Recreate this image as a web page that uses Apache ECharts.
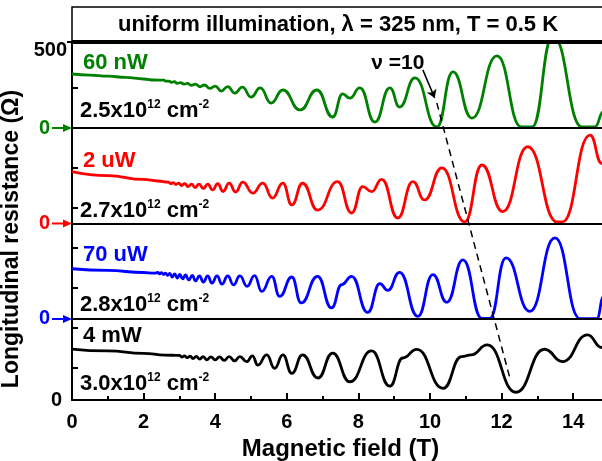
<!DOCTYPE html>
<html>
<head>
<meta charset="utf-8">
<script src="https://cdn.jsdelivr.net/npm/echarts@6/dist/echarts.min.js"></script>
<style>
  html, body { margin: 0; padding: 0; background: #fff; }
  #main { width: 602px; height: 461px; }
</style>
</head>
<body>
<div id="main"></div>
<script>
// magnetic field (T), resistance (Ohm), relative to its own zero
const trace60nW = [
  [0,314],[0.5,308],[1,302],[1.5,294],[2,285],[2.3,279],
  [2.56,278],[2.63,272],[2.70,273],[2.78,266],[2.86,269],[2.94,260],[3.03,264],[3.13,255],
  [3.23,259],[3.33,248],[3.45,255],[3.57,240],[3.70,250],[3.85,230],[4.00,244],[4.17,215],
  [4.35,241],[4.55,203],[4.76,238],[5.00,180],[5.26,233],[5.56,145],[5.89,221],[6.37,105],
  [6.84,221],[7.28,64],[7.56,198],[7.76,174],[8.04,233],[8.46,35],[8.88,233],[9.15,122],
  [9.58,291],[10.19,6],[10.64,326],[11.17,58],[11.87,419],[12.55,6],[12.85,6],[13.43,535],
  [14.25,6],[14.6,6],[14.85,95],[15,200]
];
const trace2uW = [
  [0,301],[1,278],[2,256],[2.4,247],
  [2.69,241],[2.76,232],[2.83,238],[2.90,227],[2.98,235],[3.06,221],[3.15,232],[3.24,215],
  [3.34,229],[3.44,209],[3.55,229],[3.67,203],[3.79,229],[3.93,195],[4.07,232],[4.22,186],
  [4.39,235],[4.57,183],[4.77,241],[5.05,177],[5.33,235],[5.6,148],[5.89,235],[6.14,108],
  [6.44,234],[6.86,78],[7.42,243],[7.81,61],[8.12,214],[8.37,185],[8.65,257],[9.1,32],
  [9.52,243],[9.85,137],[10.33,323],[10.97,9],[11.45,340],[12.03,69],[12.73,446],[13.55,9],
  [13.7,9],[14.47,514],[14.8,349],[15,230]
];
const trace70uW = [
  [0,292],[1,282],[2,270],[2.3,267],
  [2.40,270],[2.45,262],[2.50,269],[2.56,259],[2.61,267],[2.67,253],[2.73,265],[2.80,244],
  [2.87,262],[2.94,238],[3.01,259],[3.09,233],[3.17,256],[3.26,227],[3.36,253],[3.45,221],
  [3.56,250],[3.67,215],[3.79,250],[3.91,209],[4.05,250],[4.19,203],[4.35,250],[4.51,198],
  [4.69,250],[4.89,190],[5.10,252],[5.30,160],[5.58,248],[5.80,131],[6.14,244],[6.40,93],
  [6.86,248],[7.25,64],[7.53,199],[7.81,248],[8.26,38],[8.60,205],[8.82,166],[9.15,271],
  [9.66,15],[10.08,258],[10.47,97],[10.92,343],[11.45,3],[11.67,3],[12.12,355],[12.79,44],
  [13.49,471],[14.19,2],[14.66,2],[14.85,130],[15,262]
];
const trace4mW = [
  [0,296],[1,285],[2,271],[2.6,261],
  [3.0,259],[3.07,250],[3.14,256],[3.22,246],[3.30,255],[3.38,241],[3.47,253],[3.57,238],
  [3.66,252],[3.77,234],[3.88,251],[4.0,233],[4.12,251],[4.25,230],[4.39,252],[4.54,227],
  [4.69,252],[4.88,223],[5.04,256],[5.19,203],[5.44,262],[5.66,184],[5.89,262],[6.14,155],
  [6.44,262],[6.87,128],[7.28,273],[7.76,106],[8.37,285],[8.88,81],[9.24,244],[9.63,294],
  [10.37,68],[10.88,252],[11.15,262],[11.6,320],[12.4,45],[13.2,295],[13.7,223],[14.4,378],
  [14.8,305],[15,244]
];

const powers = ['60 nW', '2 uW', '70 uW', '4 mW'];
const densities = ['2.5', '2.7', '2.8', '3.0'];
const colors = ['#008000', '#ff0000', '#0000ff', '#000000'];
const zeroLevels = [1581, 1026, 471, 0];   // vertical offset of each trace (Ohm)
const yMax = 2081;                          // top of the frame = 500 Ohm above top trace zero
const yTicks = [186, 421, 651, 884, 1116, 1349, 1814, 2081];

// nu = 10 guide
const nuLine = [[10.19, 1727], [12.23, 128]];
const nuArrow = [[9.8, 1919], [10.13, 1756]];
const nuLabelAt = [9.1, 1959];

const FONT = "'Liberation Sans', Arial, sans-serif";
const traces = [trace60nW, trace2uW, trace70uW, trace4mW];

const chart = echarts.init(document.getElementById('main'), null, { renderer: 'canvas' });

const series = traces.map((t, i) => ({
  type: 'line',
  name: powers[i],
  data: t.map(p => [p[0], p[1] + zeroLevels[i]]),
  smooth: 0.5,
  smoothMonotone: 'x',
  showSymbol: false,
  clip: true,
  lineStyle: { color: colors[i], width: 2.8 },
  z: 3,
  markLine: i < 3 ? {
    silent: true,
    symbol: 'none',
    label: { show: false },
    lineStyle: { color: '#000', width: 2, type: 'solid' },
    data: [{ yAxis: zeroLevels[i] }]
  } : undefined
}));

series.push({
  type: 'line',
  data: nuLine,
  showSymbol: false,
  lineStyle: { color: '#000', width: 1.5, type: [7, 5] },
  z: 4,
  markLine: {
    silent: true,
    symbol: ['none', 'arrow'],
    symbolSize: 8,
    label: { show: false },
    lineStyle: { color: '#000', width: 1.5, type: 'solid' },
    data: [[{ coord: nuArrow[0] }, { coord: nuArrow[1] }]]
  },
  markPoint: {
    symbol: 'circle',
    symbolSize: 0,
    label: {
      show: true, position: 'inside', formatter: 'ν =10',
      color: '#000', fontSize: 21, fontWeight: 'bold', fontFamily: FONT
    },
    data: [{ coord: nuLabelAt }]
  }
});

const labelVals = [0, zeroLevels[2], zeroLevels[1], zeroLevels[0], yMax];
const labelText = ['{k|0}', '{b|0}', '{r|0}', '{g|0}', '{t|500}'];
const lab = (c, pad) => ({ color: c, fontSize: 20, fontWeight: 'bold', fontFamily: FONT, padding: pad });

chart.setOption({
  animation: false,
  backgroundColor: '#fff',
  grid: { left: 72, top: 42, right: -7, bottom: 61, outerBoundsMode: 'none', containLabel: false },
  xAxis: {
    type: 'value', min: 0, max: 15, interval: 2,
    axisLine: { lineStyle: { color: '#000', width: 2 } },
    axisTick: { inside: true, length: 7, lineStyle: { color: '#000', width: 2 } },
    minorTick: { show: true, splitNumber: 2, length: 4, lineStyle: { color: '#000', width: 2 } },
    axisLabel: { color: '#000', fontSize: 20, fontWeight: 'bold', fontFamily: FONT, margin: 12, showMaxLabel: false },
    splitLine: { show: false },
    name: 'Magnetic field (T)', nameLocation: 'middle', nameGap: 37,
    nameTextStyle: { color: '#000', fontSize: 24, fontWeight: 'bold', fontFamily: FONT }
  },
  yAxis: [{
    type: 'value', min: 0, max: yMax, position: 'left',
    axisLine: { show: true, lineStyle: { color: '#000', width: 2 } },
    axisTick: { show: true, inside: true, length: 6, customValues: yTicks, lineStyle: { color: '#000', width: 2 } },
    axisLabel: {
      customValues: labelVals, margin: 4,
      formatter: v => labelText[labelVals.indexOf(v)] || '',
      rich: {
        k: lab('#000', [0, 6, 0, 0]),
        t: lab('#000', [16, 1, 0, 0]),
        g: lab(colors[0], [0, 18, 0, 0]),
        r: lab(colors[1], [0, 18, 0, 0]),
        b: lab(colors[2], [0, 18, 0, 0])
      }
    },
    splitLine: { show: false },
    name: 'Longitudinal resistance (Ω)', nameLocation: 'middle', nameGap: 33,
    nameTextStyle: { color: '#000', fontSize: 23, fontWeight: 'bold', fontFamily: FONT, padding: [0, 36, 0, 0] }
  }, {
    type: 'value', min: 0, max: yMax, position: 'right',
    axisLine: { show: true, lineStyle: { color: '#000', width: 2 } },
    axisTick: { show: true, inside: true, length: 6, customValues: yTicks, lineStyle: { color: '#000', width: 2 } },
    axisLabel: { show: false },
    splitLine: { show: false }
  }, {
    type: 'value', min: 0, max: yMax, position: 'left',
    axisLine: { show: false },
    axisTick: { show: true, inside: false, length: 5, customValues: [yMax], lineStyle: { color: '#000', width: 2 } },
    axisLabel: { show: false },
    splitLine: { show: false }
  }],
  series: series
});

// annotations: title box, trace labels, arrows marking each trace's zero
const sup = { fontSize: 12, fontWeight: 'bold', fontFamily: FONT, fill: '#000', lineHeight: 12, verticalAlign: 'top' };
const main = { fontSize: 22, fontWeight: 'bold', fontFamily: FONT, fill: '#000', lineHeight: 24 };
const powerY = [63, 161, 255, 336];
const densityY = [111, 211, 305, 384];

const elements = [
  { type: 'rect', shape: { x: 72, y: 7, width: 537, height: 35 }, style: { fill: null, stroke: '#000', lineWidth: 1.5 }, z: 10 },
  { type: 'line', shape: { x1: 72, y1: 42, x2: 609, y2: 42 }, style: { stroke: '#000', lineWidth: 4 }, z: 10 },
  { type: 'text', x: 338, y: 25, z: 10, style: {
      text: 'uniform illumination, λ = 325 nm, T = 0.5 K', align: 'center', verticalAlign: 'middle',
      fontSize: 22, fontWeight: 'bold', fontFamily: FONT, fill: '#000' } }
];
powers.forEach((p, i) => {
  elements.push({ type: 'text', x: 83, y: powerY[i], z: 10, style: {
    text: p, align: 'left', verticalAlign: 'middle',
    fontSize: 22, fontWeight: 'bold', fontFamily: FONT, fill: colors[i] } });
  elements.push({ type: 'text', x: 80, y: densityY[i], z: 10, style: {
    text: '{m|' + densities[i] + 'x10}{s|12}{m| cm}{s|-2}', align: 'left', verticalAlign: 'middle',
    rich: { m: main, s: sup } } });
});
zeroLevels.slice(0, 3).forEach((z, i) => {
  const y = chart.convertToPixel({ yAxisIndex: 0 }, z);
  elements.push({ type: 'line', shape: { x1: 52, y1: y, x2: 65, y2: y }, style: { stroke: colors[i], lineWidth: 2 }, z: 10 });
  elements.push({ type: 'polygon', shape: { points: [[63, y - 4], [72, y], [63, y + 4]] }, style: { fill: colors[i] }, z: 10 });
});
chart.setOption({ graphic: { elements: elements } });
</script>
</body>
</html>
